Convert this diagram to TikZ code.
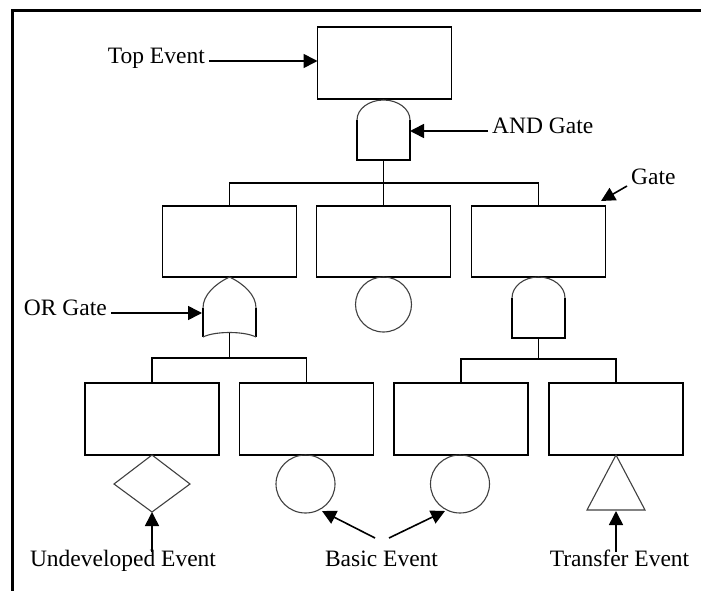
\documentclass[tikz,border=0pt]{standalone}
\usepackage{fontspec}
\setmainfont{Liberation Serif}
\usetikzlibrary{arrows.meta}
\begin{document}
\begin{tikzpicture}[x=1pt,y=-1pt,
  event/.style={draw, line width=1.6pt, minimum width=134pt, minimum height=72pt, inner sep=0pt, outer sep=0pt},
  wire/.style={line width=1.6pt},
  curve/.style={draw=black!75, line width=1.1pt},
  lbl/.style={font=\fontsize{23.5}{26}\selectfont, inner sep=0pt},
  pointer/.style={line width=1.6pt, -{Triangle[length=14pt,width=14pt]}},
]
\useasboundingbox (0,0) rectangle (701,591);

% frame along the top and left edges
\draw[line width=3pt] (12.5,591) -- (12.5,10.5) -- (701,10.5);

% event boxes
\node[event] (top) at (384.5,63) {};
\node[event, minimum height=71pt] (m1) at (229.5,241.5) {};
\node[event, minimum height=71pt] (m2) at (383.5,241.5) {};
\node[event, minimum height=71pt] (m3) at (538.5,241.5) {};
\node[event] (b1) at (152,419) {};
\node[event] (b2) at (306.5,419) {};
\node[event] (b3) at (461,419) {};
\node[event] (b4) at (616,419) {};

% AND gate below the top event
\draw[wire] (357,120) -- (357,160) -- (410,160) -- (410,120);
\draw[curve] (357,120) arc[start angle=180, end angle=360, x radius=26.5, y radius=20];
\coordinate (andA) at (383.5,160);
\coordinate (busA) at (383.5,183);
\draw[wire] (andA) -- (m2.north);
\draw[wire] (m1.north) |- (busA) -| (m3.north);

% OR gate below the left middle event
\draw[wire] (203,308) -- (203,337);
\draw[wire] (256,308) -- (256,337);
\draw[curve] (203,308) .. controls (203,295) and (215,284) .. (229.5,277)
             .. controls (244,284) and (256,295) .. (256,308);
\draw[curve] (203,337) .. controls (215,331) and (244,331) .. (256,337);
\coordinate (orOut) at (229.5,332.5);
\coordinate (busB) at (229.5,358);
\draw[wire] (orOut) -- (busB);
\draw[wire] (b1.north) |- (busB) -| (b2.north);

% basic event below the central middle event
\draw[curve] (383.5,304.5) ellipse[x radius=28, y radius=27.5];

% AND gate below the right middle event
\draw[wire] (512,298) -- (512,338) -- (565,338) -- (565,298);
\draw[curve] (512,298) arc[start angle=180, end angle=360, x radius=26.5, y radius=21];
\coordinate (andB) at (538.5,338);
\coordinate (busC) at (538.5,359);
\draw[wire] (andB) -- (busC);
\draw[wire] (b3.north) |- (busC) -| (b4.north);

% bottom row symbols
\draw[curve] (152,455) -- (190,484) -- (152,512) -- (114,484) -- cycle;
\coordinate (dmBot) at (152,512);
\draw[curve] (305.5,484) ellipse[x radius=29.5, y radius=29];
\draw[curve] (460,484) ellipse[x radius=29.5, y radius=29];
\coordinate (c1tip) at (322,511);
\coordinate (c2tip) at (445,511);
\draw[curve] (616,455) -- (645,510) -- (587,510) -- cycle;
\coordinate (trBot) at (616,511);

% labels with pointers
\node[lbl, anchor=mid east] (ltop) at (205,61) {Top Event};
\draw[pointer] ([xshift=4pt]ltop.mid east) -- (ltop.mid east -| top.west);

\node[lbl, anchor=mid west] (land) at (492,131) {AND Gate};
\draw[pointer] ([xshift=-4pt]land.mid west) -- (410,131);

\node[lbl, anchor=mid west] (lgate) at (631,182) {Gate};
\coordinate (gtip) at (601,201);
\draw[pointer] ([xshift=-4pt,yshift=-4pt]lgate.mid west) -- (gtip);

\node[lbl, anchor=mid east] (lor) at (107,313) {OR Gate};
\draw[pointer] ([xshift=4pt]lor.mid east) -- (202,313);

\node[lbl, anchor=base] (lund) at (123,566) {Undeveloped Event};
\coordinate (undFrom) at (152,552);
\draw[pointer] (undFrom) -- (dmBot);

\node[lbl, anchor=base] (lbas) at (381.5,566) {Basic Event};
\coordinate (basL) at (375,538);
\coordinate (basR) at (389,538);
\draw[pointer] (basL) -- (c1tip);
\draw[pointer] (basR) -- (c2tip);

\node[lbl, anchor=base] (ltr) at (619.5,566) {Transfer Event};
\coordinate (trFrom) at (616,552);
\draw[pointer] (trFrom) -- (trBot);
\end{tikzpicture}
\end{document}
